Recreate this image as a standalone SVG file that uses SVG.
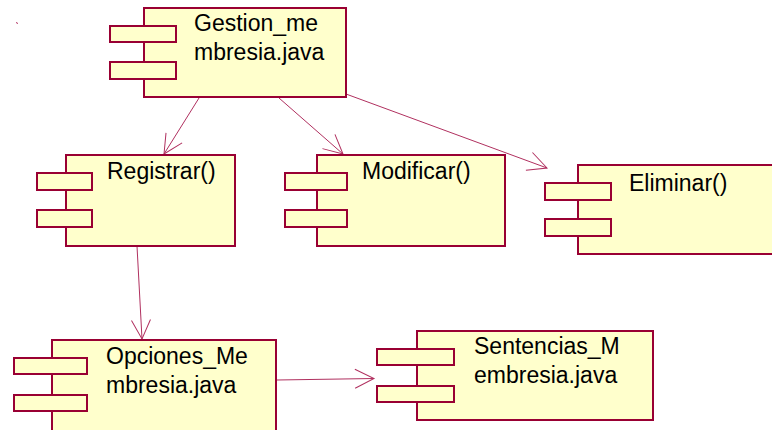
<svg xmlns="http://www.w3.org/2000/svg" width="772" height="430" viewBox="0 0 772 430">
<style>
.box{fill:#ffffcc;stroke:#990033;stroke-width:2}
.port{fill:#ffffcc;stroke:#990033;stroke-width:2}
.lbl{font-family:"Liberation Sans",Arial,sans-serif;font-size:23px;fill:#000}
.con{fill:none;stroke:#b0305f;stroke-width:1}
.ah{fill:none;stroke:#b0305f;stroke-width:1}
</style>
<defs>
<marker id="arr" viewBox="-21 -11 23 22" markerWidth="23" markerHeight="22" refX="0" refY="0" orient="auto" markerUnits="userSpaceOnUse">
<path class="ah" d="M-19,-9.5 L0,0 L-19,9.5"/>
</marker>
</defs>
<rect x="0" y="0" width="772" height="430" fill="#ffffff"/>
<line x1="16" y1="22.5" x2="18" y2="23.5" stroke="#b0305f" stroke-width="1"/>
<g id="connectors">
<line class="con" x1="199" y1="98" x2="164" y2="154" marker-end="url(#arr)"/>
<line class="con" x1="279" y1="98" x2="343" y2="154" marker-end="url(#arr)"/>
<line class="con" x1="346" y1="94" x2="547" y2="168" marker-end="url(#arr)"/>
<line class="con" x1="137" y1="246" x2="142" y2="339" marker-end="url(#arr)"/>
<line class="con" x1="277" y1="380" x2="374" y2="378.5" marker-end="url(#arr)"/>
</g>
<g id="gestion">
<rect class="box" x="144" y="8" width="202" height="89"/>
<rect class="port" x="110" y="26" width="66" height="16"/>
<rect class="port" x="110" y="62" width="66" height="17"/>
<text class="lbl" x="194" y="31">Gestion_me</text>
<text class="lbl" x="194" y="60">mbresia.java</text>
</g>
<g id="registrar">
<rect class="box" x="66" y="155" width="169" height="91"/>
<rect class="port" x="37" y="173" width="55" height="17"/>
<rect class="port" x="37" y="210" width="55" height="17"/>
<text class="lbl" x="107" y="179">Registrar()</text>
</g>
<g id="modificar">
<rect class="box" x="317" y="155" width="188" height="91"/>
<rect class="port" x="285" y="173" width="62" height="17"/>
<rect class="port" x="285" y="210" width="62" height="17"/>
<text class="lbl" x="362" y="179">Modificar()</text>
</g>
<g id="eliminar">
<rect class="box" x="578" y="165" width="210" height="89"/>
<rect class="port" x="545" y="183" width="66" height="17"/>
<rect class="port" x="545" y="219" width="66" height="17"/>
<text class="lbl" x="629" y="191">Eliminar()</text>
</g>
<g id="opciones">
<rect class="box" x="52" y="340" width="224" height="100"/>
<rect class="port" x="14" y="358" width="73" height="16"/>
<rect class="port" x="14" y="395" width="73" height="16"/>
<text class="lbl" x="106" y="364">Opciones_Me</text>
<text class="lbl" x="106" y="393">mbresia.java</text>
</g>
<g id="sentencias">
<rect class="box" x="417" y="331" width="236" height="89"/>
<rect class="port" x="377" y="349" width="77" height="16"/>
<rect class="port" x="377" y="386" width="77" height="16"/>
<text class="lbl" x="474" y="354">Sentencias_M</text>
<text class="lbl" x="474" y="383">embresia.java</text>
</g>
</svg>
